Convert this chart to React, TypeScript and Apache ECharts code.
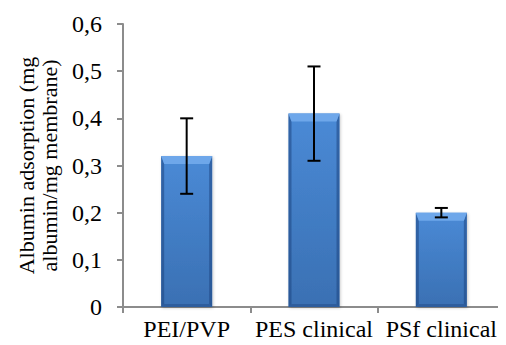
import React, { useEffect, useRef } from "react";
import * as echarts from "echarts";

const categories = ["PEI/PVP", "PES clinical", "PSf clinical"];
const values = [0.32, 0.41, 0.2];
const errLow = [0.24, 0.31, 0.19];
const errHigh = [0.4, 0.51, 0.21];
const yTicks = [0, 0.1, 0.2, 0.3, 0.4, 0.5, 0.6];

const FONT = "Times New Roman, Liberation Serif, DejaVu Serif, serif";

export default function App() {
  const ref = useRef<HTMLDivElement>(null);
  useEffect(() => {
    if (!ref.current) return;
    const chart = echarts.init(ref.current, undefined, { renderer: "svg" });
    const axisColor = "#8c8c8c";
    const BW = 51;
    chart.setOption({
      animation: false,
      backgroundColor: "#ffffff",
      textStyle: { fontFamily: FONT },
      grid: { left: 123, right: 1, top: 24, bottom: 38, outerBoundsMode: "none", containLabel: false },
      xAxis: {
        type: "category",
        data: categories,
        axisLine: { lineStyle: { color: axisColor, width: 2 } },
        axisTick: { show: true, length: 6, lineStyle: { color: axisColor, width: 2 } },
        axisLabel: { color: "#000", fontFamily: FONT, fontSize: 24, margin: 10, interval: 0, hideOverlap: false },
      },
      yAxis: {
        type: "value",
        min: 0,
        max: 0.6,
        interval: 0.1,
        name: "Albumin adsorption (mg\nalbumin/mg membrane)",
        nameLocation: "middle",
        nameGap: 62,
        nameRotate: 90,
        nameTextStyle: { color: "#000", fontFamily: FONT, fontSize: 22, lineHeight: 23 },
        axisLine: { show: true, lineStyle: { color: axisColor, width: 2 } },
        axisTick: { show: true, length: 6, lineStyle: { color: axisColor, width: 2 } },
        splitLine: { show: false },
        axisLabel: {
          color: "#000",
          fontFamily: FONT,
          fontSize: 24,
          margin: 21,
          formatter: (v: number) => {
            const t = yTicks.find((x) => Math.abs(x - v) < 1e-9);
            const val = t === undefined ? v : t;
            return val === 0 ? "0" : val.toFixed(1).replace(".", ",");
          },
        },
      },
      series: [
        {
          type: "bar",
          data: values,
          barWidth: BW,
          itemStyle: {
            color: new echarts.graphic.LinearGradient(0, 0, 0, 1, [
              { offset: 0, color: "#4a8ad6" },
              { offset: 1, color: "#3a70b3" },
            ]),
            shadowColor: "rgba(0,0,0,0.22)",
            shadowBlur: 3,
            shadowOffsetX: 1,
            shadowOffsetY: 1,
          },
        },
        {
          type: "custom",
          data: values.map((v, i) => [i, v]),
          z: 3,
          renderItem: (params: any, api: any) => {
            const i = api.value(0);
            const top = api.coord([i, api.value(1)]);
            const base = api.coord([i, 0]);
            const l = top[0] - BW / 2;
            const r = top[0] + BW / 2;
            const y = top[1];
            const b = base[1];
            const h = 8;
            const s = 3;
            return {
              type: "group",
              children: [
                {
                  type: "polygon",
                  shape: { points: [[l, y], [l + s, y + h], [l + s, b - s], [l, b]] },
                  style: { fill: "rgba(30,70,130,0.55)" },
                },
                {
                  type: "polygon",
                  shape: { points: [[r, y], [r - s, y + h], [r - s, b - s], [r, b]] },
                  style: { fill: "rgba(30,70,130,0.55)" },
                },
                {
                  type: "polygon",
                  shape: { points: [[l, b], [l + s, b - s], [r - s, b - s], [r, b]] },
                  style: { fill: "rgba(30,70,130,0.45)" },
                },
                {
                  type: "polygon",
                  shape: { points: [[l, y], [r, y], [r - s, y + h], [l + s, y + h]] },
                  style: { fill: "#6ea7ea" },
                },
              ],
            };
          },
        },
        {
          type: "custom",
          data: values.map((_, i) => [i, errLow[i], errHigh[i]]),
          z: 5,
          renderItem: (params: any, api: any) => {
            const i = api.value(0);
            const lo = api.coord([i, api.value(1)]);
            const hi = api.coord([i, api.value(2)]);
            const cw = 6.5;
            const st = { stroke: "#000", lineWidth: 2 };
            return {
              type: "group",
              children: [
                { type: "line", shape: { x1: hi[0], y1: hi[1], x2: lo[0], y2: lo[1] }, style: st },
                { type: "line", shape: { x1: hi[0] - cw, y1: hi[1], x2: hi[0] + cw, y2: hi[1] }, style: st },
                { type: "line", shape: { x1: lo[0] - cw, y1: lo[1], x2: lo[0] + cw, y2: lo[1] }, style: st },
              ],
            };
          },
        },
      ],
    });
    return () => chart.dispose();
  }, []);
  return <div ref={ref} style={{ width: 506, height: 345, margin: -8 }} />;
}
